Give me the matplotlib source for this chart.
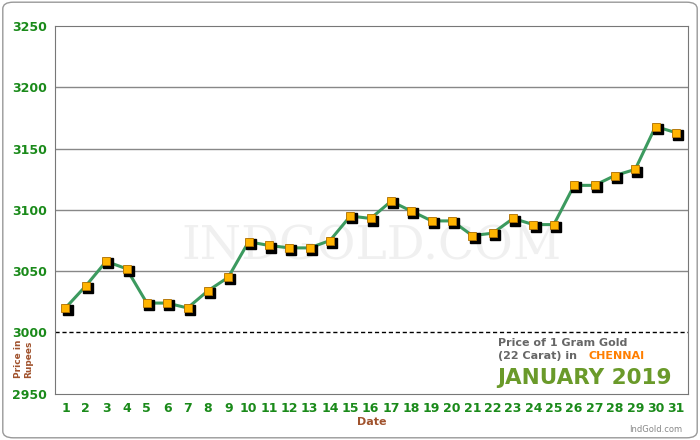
import matplotlib
matplotlib.use("Agg")
import matplotlib.pyplot as plt
from matplotlib.patches import FancyBboxPatch
import matplotlib.transforms as mtransforms

days = list(range(1, 32))
prices = [3020, 3038, 3058, 3052, 3024, 3024, 3020, 3034, 3045, 3074,
          3071, 3069, 3069, 3075, 3095, 3093, 3107, 3099, 3091, 3091,
          3079, 3081, 3093, 3088, 3088, 3120, 3120, 3128, 3133, 3168, 3163]
yticks = [2950, 3000, 3050, 3100, 3150, 3200, 3250]

fig = plt.figure(figsize=(7, 4.4), dpi=100)
fig.patches.append(FancyBboxPatch((0.004, 0.005), 0.992, 0.99, boxstyle="round,pad=0,rounding_size=0.015",
                                  transform=fig.transFigure, fill=False, edgecolor="#999999", lw=1))
ax = fig.add_axes([0.079, 0.105, 0.904, 0.836])
ax.set_xlim(0.5, 31.6)
ax.set_ylim(2950, 3250)

for y in [3050, 3100, 3150, 3200]:
    ax.axhline(y, color="#888888", lw=1, zorder=1)
ax.axhline(3000, color="black", lw=1, ls=(0, (3, 2)), zorder=1)

ax.plot(days, prices, color="#3c9a5f", lw=2.2, zorder=2)
shadow = mtransforms.offset_copy(ax.transData, fig=fig, x=1.5, y=-1.5, units="points")
ax.plot(days, prices, "s", ms=6.5, color="black", transform=shadow, zorder=3)
ax.plot(days, prices, "s", ms=5.5, mfc="#ffb400", mec="#b07000", mew=0.6, zorder=4)

ax.set_xticks(days)
ax.set_yticks(yticks)
ax.tick_params(length=0, pad=6, labelsize=9, labelcolor="#1a8a1a")
for lbl in ax.get_xticklabels() + ax.get_yticklabels():
    lbl.set_fontweight("bold")
for s in ax.spines.values():
    s.set_color("#777777")

ax.set_xlabel("Date", fontsize=8, fontweight="bold", color="#a0522d", labelpad=1)
ax.text(-0.05, 0.095, "Price in\nRupees", transform=ax.transAxes, rotation=90, fontsize=6.5,
        fontweight="bold", color="#a0522d", ha="center", va="center")

ax.text(0.5, 0.4, "INDGOLD.COM", transform=ax.transAxes, fontsize=34, family="DejaVu Serif",
        color="#f0f0f0", ha="center", va="center", zorder=0)

ax.text(0.70, 0.139, "Price of 1 Gram Gold", transform=ax.transAxes, fontsize=8,
        fontweight="bold", color="#666666", va="center")
ax.text(0.70, 0.104, "(22 Carat) in ", transform=ax.transAxes, fontsize=8,
        fontweight="bold", color="#666666", va="center")
ax.text(0.842, 0.104, "CHENNAI", transform=ax.transAxes, fontsize=8,
        fontweight="bold", color="#ff7f00", va="center")
ax.text(0.698, 0.043, "JANUARY 2019", transform=ax.transAxes, fontsize=15.5,
        fontweight="bold", color="#6a9a2a", va="center")
fig.text(0.975, 0.018, "IndGold.com", fontsize=6, color="#888888", ha="right")

fig.savefig("out.png", dpi=100)
